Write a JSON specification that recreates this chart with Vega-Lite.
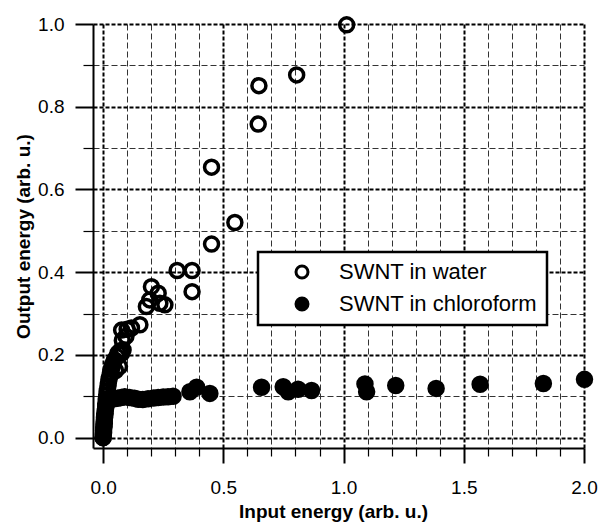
{
  "$schema": "https://vega.github.io/schema/vega-lite/v6.json",
  "width": 491,
  "height": 424,
  "autosize": "none",
  "padding": {"left": 93, "top": 24, "right": 16, "bottom": 78},
  "background": "white",
  "config": {
    "font": "Liberation Sans",
    "view": {"stroke": null},
    "axis": {"labelColor": "black", "titleColor": "black", "tickColor": "black", "domainColor": "black", "labelFlush": false},
    "legend": {"strokeWidth": 2.5}
  },
  "datasets": {
    "pts": [
      {"x": 0.000, "y": 0.000, "s": "SWNT in water"},
      {"x": 0.002, "y": 0.012, "s": "SWNT in water"},
      {"x": 0.003, "y": 0.025, "s": "SWNT in water"},
      {"x": 0.005, "y": 0.035, "s": "SWNT in water"},
      {"x": 0.006, "y": 0.048, "s": "SWNT in water"},
      {"x": 0.008, "y": 0.058, "s": "SWNT in water"},
      {"x": 0.010, "y": 0.070, "s": "SWNT in water"},
      {"x": 0.011, "y": 0.082, "s": "SWNT in water"},
      {"x": 0.013, "y": 0.093, "s": "SWNT in water"},
      {"x": 0.015, "y": 0.104, "s": "SWNT in water"},
      {"x": 0.017, "y": 0.113, "s": "SWNT in water"},
      {"x": 0.020, "y": 0.124, "s": "SWNT in water"},
      {"x": 0.022, "y": 0.133, "s": "SWNT in water"},
      {"x": 0.025, "y": 0.142, "s": "SWNT in water"},
      {"x": 0.028, "y": 0.150, "s": "SWNT in water"},
      {"x": 0.031, "y": 0.158, "s": "SWNT in water"},
      {"x": 0.035, "y": 0.166, "s": "SWNT in water"},
      {"x": 0.038, "y": 0.174, "s": "SWNT in water"},
      {"x": 0.043, "y": 0.181, "s": "SWNT in water"},
      {"x": 0.048, "y": 0.188, "s": "SWNT in water"},
      {"x": 0.052, "y": 0.162, "s": "SWNT in water"},
      {"x": 0.057, "y": 0.196, "s": "SWNT in water"},
      {"x": 0.062, "y": 0.204, "s": "SWNT in water"},
      {"x": 0.068, "y": 0.172, "s": "SWNT in water"},
      {"x": 0.072, "y": 0.210, "s": "SWNT in water"},
      {"x": 0.077, "y": 0.204, "s": "SWNT in water"},
      {"x": 0.083, "y": 0.212, "s": "SWNT in water"},
      {"x": 0.080, "y": 0.235, "s": "SWNT in water"},
      {"x": 0.077, "y": 0.260, "s": "SWNT in water"},
      {"x": 0.095, "y": 0.245, "s": "SWNT in water"},
      {"x": 0.100, "y": 0.262, "s": "SWNT in water"},
      {"x": 0.118, "y": 0.265, "s": "SWNT in water"},
      {"x": 0.153, "y": 0.273, "s": "SWNT in water"},
      {"x": 0.180, "y": 0.317, "s": "SWNT in water"},
      {"x": 0.194, "y": 0.333, "s": "SWNT in water"},
      {"x": 0.201, "y": 0.365, "s": "SWNT in water"},
      {"x": 0.229, "y": 0.349, "s": "SWNT in water"},
      {"x": 0.236, "y": 0.325, "s": "SWNT in water"},
      {"x": 0.257, "y": 0.321, "s": "SWNT in water"},
      {"x": 0.308, "y": 0.404, "s": "SWNT in water"},
      {"x": 0.370, "y": 0.404, "s": "SWNT in water"},
      {"x": 0.370, "y": 0.353, "s": "SWNT in water"},
      {"x": 0.451, "y": 0.654, "s": "SWNT in water"},
      {"x": 0.451, "y": 0.468, "s": "SWNT in water"},
      {"x": 0.548, "y": 0.520, "s": "SWNT in water"},
      {"x": 0.645, "y": 0.758, "s": "SWNT in water"},
      {"x": 0.648, "y": 0.851, "s": "SWNT in water"},
      {"x": 0.805, "y": 0.877, "s": "SWNT in water"},
      {"x": 1.013, "y": 0.998, "s": "SWNT in water"},
      {"x": 0.000, "y": 0.000, "s": "SWNT in chloroform"},
      {"x": 0.001, "y": 0.008, "s": "SWNT in chloroform"},
      {"x": 0.002, "y": 0.016, "s": "SWNT in chloroform"},
      {"x": 0.003, "y": 0.025, "s": "SWNT in chloroform"},
      {"x": 0.004, "y": 0.033, "s": "SWNT in chloroform"},
      {"x": 0.005, "y": 0.042, "s": "SWNT in chloroform"},
      {"x": 0.006, "y": 0.050, "s": "SWNT in chloroform"},
      {"x": 0.007, "y": 0.058, "s": "SWNT in chloroform"},
      {"x": 0.009, "y": 0.066, "s": "SWNT in chloroform"},
      {"x": 0.011, "y": 0.074, "s": "SWNT in chloroform"},
      {"x": 0.013, "y": 0.081, "s": "SWNT in chloroform"},
      {"x": 0.016, "y": 0.086, "s": "SWNT in chloroform"},
      {"x": 0.020, "y": 0.090, "s": "SWNT in chloroform"},
      {"x": 0.030, "y": 0.092, "s": "SWNT in chloroform"},
      {"x": 0.045, "y": 0.094, "s": "SWNT in chloroform"},
      {"x": 0.060, "y": 0.095, "s": "SWNT in chloroform"},
      {"x": 0.075, "y": 0.097, "s": "SWNT in chloroform"},
      {"x": 0.090, "y": 0.099, "s": "SWNT in chloroform"},
      {"x": 0.110, "y": 0.097, "s": "SWNT in chloroform"},
      {"x": 0.130, "y": 0.095, "s": "SWNT in chloroform"},
      {"x": 0.146, "y": 0.093, "s": "SWNT in chloroform"},
      {"x": 0.165, "y": 0.092, "s": "SWNT in chloroform"},
      {"x": 0.187, "y": 0.094, "s": "SWNT in chloroform"},
      {"x": 0.210, "y": 0.096, "s": "SWNT in chloroform"},
      {"x": 0.229, "y": 0.097, "s": "SWNT in chloroform"},
      {"x": 0.250, "y": 0.098, "s": "SWNT in chloroform"},
      {"x": 0.270, "y": 0.099, "s": "SWNT in chloroform"},
      {"x": 0.291, "y": 0.100, "s": "SWNT in chloroform"},
      {"x": 0.361, "y": 0.111, "s": "SWNT in chloroform"},
      {"x": 0.389, "y": 0.122, "s": "SWNT in chloroform"},
      {"x": 0.444, "y": 0.107, "s": "SWNT in chloroform"},
      {"x": 0.659, "y": 0.122, "s": "SWNT in chloroform"},
      {"x": 0.749, "y": 0.123, "s": "SWNT in chloroform"},
      {"x": 0.770, "y": 0.111, "s": "SWNT in chloroform"},
      {"x": 0.811, "y": 0.117, "s": "SWNT in chloroform"},
      {"x": 0.867, "y": 0.114, "s": "SWNT in chloroform"},
      {"x": 1.089, "y": 0.130, "s": "SWNT in chloroform"},
      {"x": 1.096, "y": 0.111, "s": "SWNT in chloroform"},
      {"x": 1.217, "y": 0.126, "s": "SWNT in chloroform"},
      {"x": 1.385, "y": 0.119, "s": "SWNT in chloroform"},
      {"x": 1.568, "y": 0.129, "s": "SWNT in chloroform"},
      {"x": 1.831, "y": 0.131, "s": "SWNT in chloroform"},
      {"x": 2.002, "y": 0.141, "s": "SWNT in chloroform"}
    ]
  },
  "data": {"name": "pts"},
  "layer": [
    {
      "mark": {"type": "point", "opacity": 0},
      "encoding": {
        "x": {
          "field": "x", "type": "quantitative",
          "scale": {"domain": [-0.042, 2.0], "nice": false, "zero": false},
          "axis": {
            "orient": "bottom",
            "values": [0.1, 0.2, 0.3, 0.4, 0.6, 0.7, 0.8, 0.9, 1.1, 1.2, 1.3, 1.4, 1.6, 1.7, 1.8, 1.9],
            "labels": false, "title": null, "domain": false,
            "tickSize": 8, "tickWidth": 1.2,
            "grid": true, "gridColor": "#333333", "gridDash": [6, 3], "gridWidth": 1, "gridOpacity": 1
          }
        },
        "y": {
          "field": "y", "type": "quantitative",
          "scale": {"domain": [-0.025, 1.0], "nice": false, "zero": false},
          "axis": {
            "orient": "left",
            "values": [0.1, 0.3, 0.5, 0.7, 0.9],
            "labels": false, "title": null, "domain": false,
            "tickSize": 10, "tickWidth": 1.2,
            "grid": true, "gridColor": "#333333", "gridDash": [6, 3], "gridWidth": 1, "gridOpacity": 1
          }
        }
      }
    },
    {
      "mark": {"type": "point", "shape": "circle", "filled": true, "stroke": "black", "strokeWidth": 3.5, "size": 196, "opacity": 1},
      "encoding": {
        "x": {
          "field": "x", "type": "quantitative",
          "axis": {
            "orient": "bottom",
            "values": [0, 0.5, 1.0, 1.5, 2.0], "format": ".1f",
            "labelFontSize": 19, "labelPadding": 15,
            "tickSize": 15, "tickWidth": 2, "domainWidth": 2,
            "grid": true, "gridColor": "black", "gridDash": [4, 2], "gridWidth": 2, "gridOpacity": 1,
            "title": "Input energy (arb. u.)", "titleFontSize": 19, "titleFontWeight": "bold",
            "titleX": 240, "titleY": 63, "titleBaseline": "middle", "titleAlign": "center"
          }
        },
        "y": {
          "field": "y", "type": "quantitative",
          "axis": {
            "orient": "left",
            "values": [0, 0.2, 0.4, 0.6, 0.8, 1.0], "format": ".1f",
            "labelFontSize": 19, "labelPadding": 11,
            "tickSize": 18, "tickWidth": 2, "domainWidth": 2,
            "grid": true, "gridColor": "black", "gridDash": [4, 2], "gridWidth": 2, "gridOpacity": 1,
            "title": "Output energy (arb. u.)", "titleFontSize": 19, "titleFontWeight": "bold",
            "titleX": -70, "titleY": 212, "titleAngle": -90, "titleBaseline": "middle", "titleAlign": "center"
          }
        },
        "fill": {
          "field": "s", "type": "nominal",
          "scale": {"domain": ["SWNT in water", "SWNT in chloroform"], "range": ["transparent", "black"]},
          "legend": {
            "orient": "none", "legendX": 165, "legendY": 228, "title": null,
            "padding": 9, "strokeColor": "black", "fillColor": "white",
            "labelFontSize": 22, "labelColor": "black", "labelFont": "Liberation Sans", "labelLimit": 400,
            "symbolType": "circle", "symbolSize": 144, "symbolStrokeWidth": 3, "symbolStrokeColor": "black",
            "rowPadding": 8, "symbolOffset": 24, "labelOffset": 26,
            "encode": {"legend": {"update": {"strokeWidth": {"value": 2.5}}}}
          }
        }
      }
    }
  ],
  "resolve": {"axis": {"x": "independent", "y": "independent"}}
}
